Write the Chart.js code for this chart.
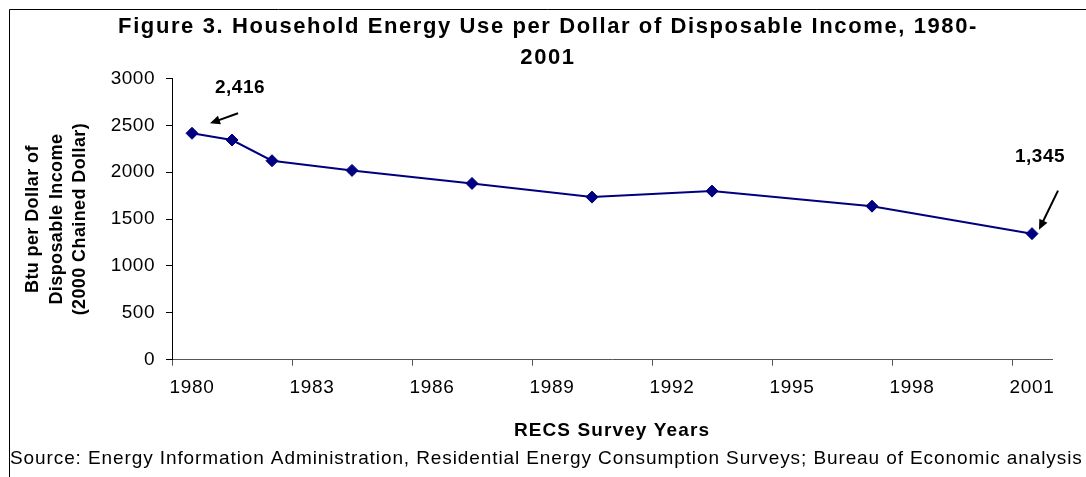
<!DOCTYPE html>
<html lang="en">
<head>
  <meta charset="UTF-8">
  <title>Household Energy Use per Dollar of Disposable Income</title>
  <script src="https://cdn.jsdelivr.net/npm/chart.js"></script>
  <style>
    body {
      margin: 0;
      background: #fff;
    }
    canvas {
      display: block;
    }
  </style>
</head>
<body>

  <canvas id="energyChart" width="1086" height="477"></canvas>

  <script>
    // RECS survey years and Btu per dollar of disposable income (2000 chained dollars)
    const surveyYears = [1980, 1981, 1982, 1984, 1987, 1990, 1993, 1997, 2001];
    const btuPerDollar = [2416, 2344, 2123, 2020, 1881, 1735, 1799, 1638, 1345];
    const yearTicks = [1980, 1983, 1986, 1989, 1992, 1995, 1998, 2001];
    const btuTicks = [0, 500, 1000, 1500, 2000, 2500, 3000];

    const FONT = 'Arial, "Liberation Sans", sans-serif';

    // the text is set a little loose, the way the spreadsheet drew it
    const spacing = {
      title: '1.6px',
      source: '0.9px',
      xTicks: '0.7px',
      xTitle: '1.1px',
      yTicks: '0.5px',
      yTitle: '0.4px'
    };

    // first and last survey get a value callout with an arrow
    const callouts = [
      { index: 0, text: [48, -46], tail: [46, -20], head: [18, -10] },
      { index: surveyYears.length - 1, text: [8, -77], tail: [26, -43], head: [7, -4] }
    ];

    function spaced(ctx, amount, fn) {
      return function (...args) {
        const prev = ctx.letterSpacing;
        ctx.letterSpacing = amount;
        fn.apply(this, args);
        ctx.letterSpacing = prev;
      };
    }

    const spacingPlugin = {
      id: 'spacing',
      afterLayout(chart) {
        const ctx = chart.ctx;
        chart.boxes.forEach(box => {
          if (box._spaced) return;
          box._spaced = true;
          if (box === chart.scales.x || box === chart.scales.y) {
            const key = box.id;
            box.drawLabels = spaced(ctx, spacing[key + 'Ticks'], box.drawLabels);
            box.drawTitle = spaced(ctx, spacing[key + 'Title'], box.drawTitle);
          } else if (box === chart.titleBlock) {
            box.draw = spaced(ctx, spacing.title, box.draw);
          } else if (box.options && box.options.position === 'bottom' && box.options.text) {
            box.draw = spaced(ctx, spacing.source, box.draw);
          }
        });
      }
    };

    const calloutPlugin = {
      id: 'callouts',
      afterDatasetsDraw(chart) {
        const ctx = chart.ctx;
        const meta = chart.getDatasetMeta(0);
        ctx.save();
        ctx.fillStyle = '#000';
        ctx.strokeStyle = '#000';
        ctx.lineWidth = 2;
        ctx.font = 'bold 19px ' + FONT;
        ctx.letterSpacing = '0.5px';
        ctx.textAlign = 'center';
        ctx.textBaseline = 'middle';
        callouts.forEach(c => {
          const pt = meta.data[c.index];
          const label = btuPerDollar[c.index].toLocaleString('en-US');
          ctx.fillText(label, pt.x + c.text[0], pt.y + c.text[1]);

          const x1 = pt.x + c.tail[0], y1 = pt.y + c.tail[1];
          const x2 = pt.x + c.head[0], y2 = pt.y + c.head[1];
          const ang = Math.atan2(y2 - y1, x2 - x1);
          const len = 10, half = 4.5;
          ctx.beginPath();
          ctx.moveTo(x1, y1);
          ctx.lineTo(x2 - Math.cos(ang) * len * 0.8, y2 - Math.sin(ang) * len * 0.8);
          ctx.stroke();
          ctx.beginPath();
          ctx.moveTo(x2, y2);
          ctx.lineTo(x2 - Math.cos(ang) * len - Math.sin(ang) * half, y2 - Math.sin(ang) * len + Math.cos(ang) * half);
          ctx.lineTo(x2 - Math.cos(ang) * len + Math.sin(ang) * half, y2 - Math.sin(ang) * len - Math.cos(ang) * half);
          ctx.closePath();
          ctx.fill();
        });
        ctx.restore();
      }
    };

    // thin frame along the top and left edge
    const framePlugin = {
      id: 'frame',
      beforeDraw(chart) {
        const ctx = chart.ctx;
        ctx.save();
        ctx.fillStyle = '#fff';
        ctx.fillRect(0, 0, chart.width, chart.height);
        ctx.strokeStyle = '#000';
        ctx.lineWidth = 1;
        ctx.beginPath();
        ctx.moveTo(9.5, chart.height);
        ctx.lineTo(9.5, 9.5);
        ctx.lineTo(chart.width, 9.5);
        ctx.stroke();
        ctx.restore();
      }
    };

    const ctx = document.getElementById('energyChart').getContext('2d');
    const energyChart = new Chart(ctx, {
      type: 'line',
      data: {
        datasets: [{
          // each survey sits in the middle of its year
          data: surveyYears.map((yr, i) => ({ x: yr + 0.5, y: btuPerDollar[i] })),
          borderColor: '#000080',
          backgroundColor: '#000080',
          borderWidth: 2,
          pointStyle: 'rectRot',
          pointRadius: 6,
          pointBorderWidth: 1,
          tension: 0
        }]
      },
      options: {
        responsive: false,
        animation: false,
        layout: { padding: { left: 10, right: 0, top: 0, bottom: 0 } },
        plugins: {
          legend: { display: false },
          tooltip: { enabled: false },
          title: {
            display: true,
            text: ['Figure 3. Household Energy Use per Dollar of Disposable Income, 1980-', '2001'],
            color: '#000',
            font: { family: FONT, size: 22, weight: 'bold', lineHeight: 1.41 },
            padding: { top: 11.5, bottom: 5 }
          },
          subtitle: {
            display: true,
            position: 'bottom',
            align: 'start',
            text: 'Source: Energy Information Administration, Residential Energy Consumption Surveys; Bureau of Economic analysis',
            color: '#000',
            font: { family: FONT, size: 19, weight: 'normal', lineHeight: 1.2 },
            padding: { top: 0, bottom: 6.5 }
          }
        },
        scales: {
          x: {
            type: 'linear',
            min: 1980,
            max: 2002,
            afterBuildTicks: axis => { axis.ticks = yearTicks.map(v => ({ value: v })); },
            afterFit: axis => { axis.height = 88; axis.paddingRight = 34; },
            border: { display: true, color: '#555', width: 1 },
            grid: { drawOnChartArea: false, drawTicks: true, tickLength: 6, color: '#555' },
            ticks: {
              color: '#000',
              font: { family: FONT, size: 19 },
              padding: 11,
              labelOffset: 20,
              maxRotation: 0,
              autoSkip: false,
              callback: v => String(v)
            },
            title: {
              display: true,
              text: 'RECS Survey Years',
              color: '#000',
              font: { family: FONT, size: 19, weight: 'bold', lineHeight: 1.2 },
              padding: { top: 0, bottom: 5.6 }
            }
          },
          y: {
            min: 0,
            max: 3000,
            afterBuildTicks: axis => { axis.ticks = btuTicks.map(v => ({ value: v })); },
            afterFit: axis => { axis.width = 162; },
            border: { display: true, color: '#000', width: 1 },
            grid: { drawOnChartArea: false, drawTicks: true, tickLength: 6, color: '#000' },
            ticks: {
              color: '#000',
              font: { family: FONT, size: 19 },
              padding: 11,
              callback: v => String(v)
            },
            title: {
              display: true,
              text: ['Btu per Dollar of', 'Disposable Income', '(2000 Chained Dollar)'],
              color: '#000',
              font: { family: FONT, size: 18, weight: 'bold', lineHeight: 1.28 },
              padding: { top: 12, bottom: 0 }
            }
          }
        }
      },
      plugins: [framePlugin, spacingPlugin, calloutPlugin]
    });
  </script>

</body>
</html>
